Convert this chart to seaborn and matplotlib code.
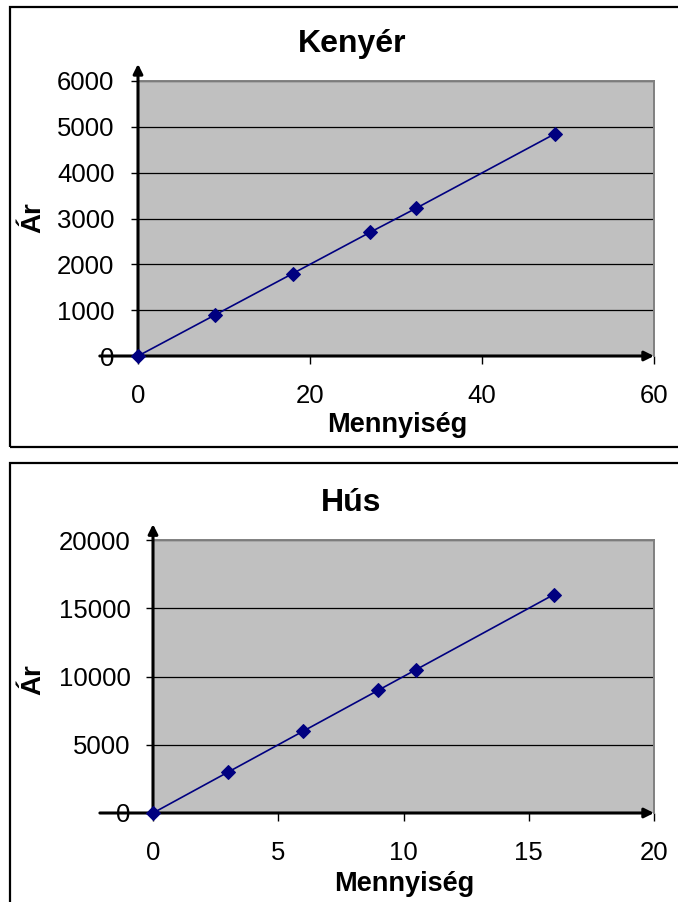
import numpy as np
import pandas as pd
import matplotlib
matplotlib.use("Agg")
import matplotlib.pyplot as plt
from matplotlib.patches import Rectangle
import seaborn as sns

# Data
bread_qty = [0, 9, 18, 27, 32.3, 48.5]
bread_price = [0, 900, 1800, 2700, 3220, 4850]
meat_qty = [0, 3, 6, 9, 10.5, 16]
meat_price = [0, 3000, 6000, 9000, 10500, 16000]

bread_xticks = [0, 20, 40, 60]
bread_yticks = [0, 1000, 2000, 3000, 4000, 5000, 6000]
meat_xticks = [0, 5, 10, 15, 20]
meat_yticks = [0, 5000, 10000, 15000, 20000]

W, H = 678, 902
NAVY = "#000080"
PLOT_BG = "#c0c0c0"

sns.set_theme(style="white")
plt.rcParams["font.family"] = ["Liberation Sans", "DejaVu Sans"]
plt.rcParams["text.color"] = "black"
plt.rcParams["xtick.color"] = "black"
plt.rcParams["ytick.color"] = "black"


def fx(px):
    return px / W


def fy(py):
    return 1 - py / H


def draw_panel(fig, rect, qty, price, xticks, yticks, title, title_xy, xlab_xy, ylab_xy,
               hstart, vtop, ypad):
    ax = fig.add_axes(rect)
    ax.set_facecolor(PLOT_BG)
    df = pd.DataFrame({"Mennyiség": qty, "Ár": price})
    sns.lineplot(data=df, x="Mennyiség", y="Ár", ax=ax, color=NAVY, lw=1.2,
                 marker="D", markersize=7, markeredgecolor=NAVY,
                 markerfacecolor=NAVY, clip_on=False, zorder=5)
    ax.set_xlim(xticks[0], xticks[-1])
    ax.set_ylim(yticks[0], yticks[-1])
    ax.set_xticks(xticks)
    ax.set_yticks(yticks)
    ax.set_xticklabels([str(t) for t in xticks], fontsize=18.5)
    ax.set_yticklabels([str(t) for t in yticks], fontsize=18.5)
    ax.set_xlabel("")
    ax.set_ylabel("")
    ax.grid(axis="y", color="black", lw=0.9)
    ax.grid(axis="x", visible=False)
    ax.set_axisbelow(True)
    for side in ["top", "right"]:
        ax.spines[side].set_color("#808080")
        ax.spines[side].set_linewidth(1.4)
    for side in ["left", "bottom"]:
        ax.spines[side].set_visible(False)
    ax.tick_params(axis="x", direction="out", length=6, width=1, pad=14,
                   colors="black", bottom=True)
    ax.tick_params(axis="y", direction="out", length=5, width=1, pad=ypad,
                   colors="black", left=True)

    # axis arrows
    ax.annotate("", xy=(1.0, 0), xytext=(hstart, 0), xycoords="axes fraction",
                arrowprops=dict(arrowstyle="-|>", color="black", lw=2.2,
                                mutation_scale=14, shrinkA=0, shrinkB=0))
    ax.annotate("", xy=(0, vtop), xytext=(0, 0), xycoords="axes fraction",
                arrowprops=dict(arrowstyle="-|>", color="black", lw=2.2,
                                mutation_scale=14, shrinkA=0, shrinkB=0))

    fig.text(fx(title_xy[0]), fy(title_xy[1]), title, fontsize=23,
             fontweight="bold", ha="center", va="center")
    fig.text(fx(xlab_xy[0]), fy(xlab_xy[1]), "Mennyiség", fontsize=19.5,
             fontweight="bold", ha="center", va="center")
    fig.text(fx(ylab_xy[0]), fy(ylab_xy[1]), "Ár", fontsize=20,
             fontweight="bold", ha="center", va="center", rotation=90)
    return ax


fig = plt.figure(figsize=(W / 100, H / 100), dpi=100)
fig.patch.set_facecolor("white")

# chart frames
fig.patches.append(Rectangle((fx(10), fy(447)), fx(680), (447 - 7) / H,
                             transform=fig.transFigure, fill=False,
                             edgecolor="black", lw=1.6))
fig.patches.append(Rectangle((fx(10), fy(910)), fx(680), (910 - 463) / H,
                             transform=fig.transFigure, fill=False,
                             edgecolor="black", lw=1.6))

draw_panel(fig, [fx(138), fy(356), fx(654 - 138), (356 - 81) / H],
           bread_qty, bread_price, bread_xticks, bread_yticks, "Kenyér",
           (352, 44), (397, 425), (33, 218), hstart=-0.074, vtop=1.062, ypad=12)

draw_panel(fig, [fx(153), fy(813), fx(654 - 153), (813 - 540) / H],
           meat_qty, meat_price, meat_xticks, meat_yticks, "Hús",
           (351, 503), (404, 884), (33, 680), hstart=-0.106, vtop=1.058, ypad=11)

fig.savefig("out.png", dpi=100)
